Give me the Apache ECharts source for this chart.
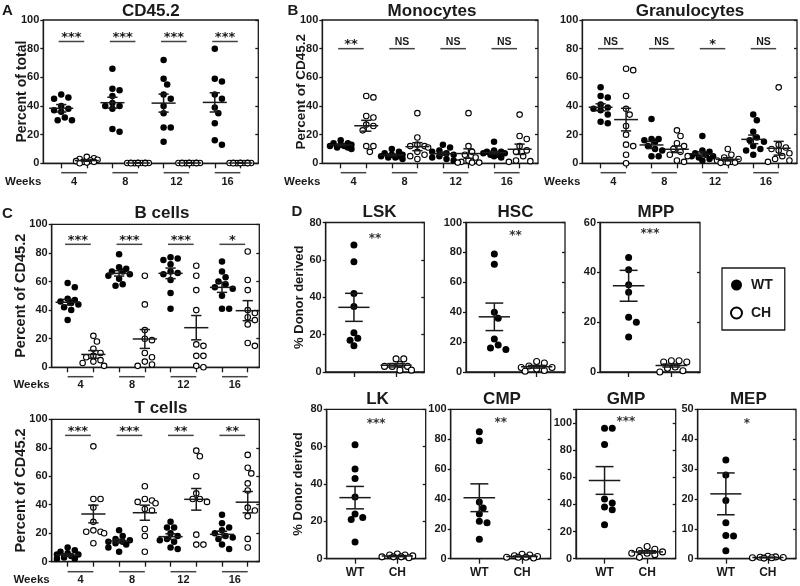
<!DOCTYPE html>
<html><head><meta charset="utf-8">
<script src="https://cdn.jsdelivr.net/npm/echarts@6/dist/echarts.min.js"></script>
<style>html,body{margin:0;padding:0;background:#fff}#c{width:800px;height:586px}</style>
</head><body><div id="c"></div>
<script>
// ---------------- data ----------------
const weeks = ['4', '8', '12', '16'];
const groupNames = ['WT', 'CH'];

const cd45Wt = [[48,46,45,40,38,37,36,32,30,30],[66,52,51,47,42,40,40,38,24,22],[72,59,55,48,45,40,35,25,25,15],[80,59,57,48,45,39,35,28,16,13]];
const cd45Ch = [[4.5,3.5,3,2.5,2,1.5,1,1,0.5,0],[0.4,0.3,0.3,0.2,0.2,0.2,0.1,0.1,0.1,0],[0.4,0.3,0.3,0.2,0.2,0.2,0.1,0.1,0.1,0],[0.4,0.3,0.3,0.2,0.2,0.2,0.1,0.1,0.1,0]];
const cd45WtMean = [38.4, 42.3, 42, 42.5], cd45WtSem = [2.6, 3.8, 6.3, 6.7];
const cd45ChMean = [1.9, 0.2, 0.2, 0.2], cd45ChSem = [0.5, 0.05, 0.05, 0.05];
const cd45Sig = ['***', '***', '***', '***'];

const monoWt = [[16,14,14,13,13,12,12,11,11,10],[10,8,7,6,6,5,5,4,4,3],[13,11,9,8,7,6,5,4,3,2],[15,9,8,8,7,7,6,6,5,4]];
const monoCh = [[47,46,33,32,27,26,23,12,12,8],[35,18,13,12,12,11,8,6,5,3],[35,12,8,6,4,2,1,0.5,0.5,0.5],[34,19,17,12,9,8,5,2,1.5,1]];
const monoWtMean = [12.8, 5.8, 6.7, 7.4], monoWtSem = [0.6, 0.7, 1.1, 0.9];
const monoChMean = [26.2, 11.6, 6.8, 9.8], monoChSem = [3.8, 2.8, 3.3, 3.6];
const monoSig = ['**', 'NS', 'NS', 'NS'];

const granWt = [[53,47,46,41,39,38,37,34,29,28],[31,17,17,16,15,12,10,9,5,5],[19,9,8,7,6,5,5,4,3,2],[34,30,22,18,16,15,12,10,9,6]];
const granCh = [[66,65,47,38,34,26,20,13,12,6,0],[23,19,14,12,10,8,6,5,2,1],[10,6,4,3,2,1,1,0.5,0.5,0.3],[53,13,11,10,9,7,5,3,2,1]];
const granWtMean = [39.1, 12.8, 6.5, 16.7], granWtSem = [2.4, 2.5, 1.5, 3.0];
const granChMean = [30.5, 9.8, 2.8, 10.5], granChSem = [7.9, 2.3, 1.1, 4.8];
const granSig = ['NS', 'NS', '*', 'NS'];

const bWt = [[59,56,48,47,46,45,44,42,40,33],[79,70,69,67,67,65,64,62,58,57],[77,76,75,72,67,66,65,61,52,41],[74,67,63,60,58,56,55,50,41,41]];
const bCh = [[22,18,13,10,8,7,5,4,3,1],[64,44,26,20,19,10,7,4,2,1],[71,64,54,40,16,15,8,8,1,0],[81,61,54,40,38,35,33,30,17,15]];
const bWtMean = [45.5, 65.7, 65.7, 55.9], bWtSem = [2.0, 1.9, 3.7, 3.5];
const bChMean = [9.0, 19.8, 27.7, 39.6], bChSem = [2.7, 6.6, 8.5, 7.0];
const bSig = ['***', '***', '***', '*'];

const tWt = [[10,8,7,6,5,5,4,3,2,2],[22,18,16,15,14,14,13,12,10,7],[28,24,24,20,18,16,15,14,10,9],[33,27,24,22,20,18,17,16,12,9]];
const tCh = [[81,44,44,38,28,22,21,21,20,13],[53,44,43,42,41,37,36,23,18,7],[78,74,60,48,44,44,42,19,12,12],[75,66,62,55,50,38,36,32,16,10]];
const tWtMean = [4.7, 14.5, 17.6, 19.2], tWtSem = [0.9, 1.3, 2.0, 2.2];
const tChMean = [33.5, 34.4, 43.8, 41.8], tChSem = [6.2, 5.3, 7.6, 7.5];
const tSig = ['***', '***', '**', '**'];

const lskWt = [68,59,42,35,21,18,17,14], lskCh = [7,7,4,3,3,3,1,1];
const hscWt = [79,72,40,36,22,18,16,15], hscCh = [7,6,4,3,3,2,1,0.5];
const mppWt = [46,41,35,32,22,20,14], mppCh = [4.5,4.5,4,4,2,1.5,0.5,0];
const lkWt = [61,48,43,33,24,22,21,9], lkCh = [2.5,2,2,1.5,1,1,1,0.5];
const cmpWt = [85,79,38,34,30,25,24,13], cmpCh = [3,2.5,2,1.5,1,1,1,0.5];
const gmpWt = [96,96,84,44,41,38,36,25], gmpCh = [9,7,6,5,4,4,3,1];
const mepWt = [33,28,19.5,12,7.8,7.6,2.7], mepCh = [0.8,0.6,0.5,0.4,0.3,0.3,0.2];
// [WT, CH] mean and SEM per progenitor panel
const lskMean = [34.6, 3.6], lskSem = [7.5, 0.9];
const hscMean = [36.9, 3.5], hscSem = [9.2, 0.9];
const mppMean = [34.6, 2.6], mppSem = [6.2, 0.6];
const lkMean = [32.7, 1.4], lkSem = [6.0, 0.3];
const cmpMean = [40.8, 1.5], cmpSem = [9.3, 0.3];
const gmpMean = [57.6, 5.0], gmpSem = [10.2, 0.9];
const mepMean = [21.7, 0.4], mepSem = [7.0, 0.1];

// ---------------- layout ----------------
const FONT = '"Liberation Sans", Arial, sans-serif';
const INK = '#1a1a1a';

function wk(title, tx, ty, grid, x, yName, nameGap, nameSize, wt, ch, wm, ws, cm, cs, sig, sigY, ul, wl) {
  return {title, tx, ty, grid, x, y: [0, 100, 20], yName, nameGap, nameSize, wt, ch, wm, ws, cm, cs, sig, sigY,
          ul, wl, dot: 6.5, meanHalf: 0.47, capHalf: 0.2, swarmHalf: 13, weekRow: true};
}
function dp(title, tx, ty, grid, y, yName, nameGap, wt, ch, mean, sem, star, starY, xLabels) {
  return {title, tx, ty, grid, x: [0.33, 2.67], y, yName, nameGap, nameSize: 13, wt: [wt], ch: [ch],
          wm: [mean[0]], ws: [sem[0]], cm: [mean[1]], cs: [sem[1]], star, starY, xLabels,
          dot: 7, meanHalf: 0.37, capHalf: 0.21, swarmHalf: 18};
}

const panels = [
  wk('CD45.2', 150.8, 11, [43.3, 20, 215, 143.3], [0.3, 8.7], 'Percent of total', 14, 14, cd45Wt, cd45Ch, cd45WtMean, cd45WtSem, cd45ChMean, cd45ChSem, cd45Sig, 85, 9.4, 18.5),
  wk('Monocytes', 432, 11, [322.3, 20, 215.7, 143.3], [0.28, 8.72], 'Percent of CD45.2', 14, 13.5, monoWt, monoCh, monoWtMean, monoWtSem, monoChMean, monoChSem, monoSig, 80, 9.4, 18.5),
  wk('Granulocytes', 690, 11, [582.3, 20, 214.7, 143.3], [0.28, 8.72], '', 14, 13.5, granWt, granCh, granWtMean, granWtSem, granChMean, granChSem, granSig, 80, 9.4, 18.5),
  wk('B cells', 162, 213, [51.7, 224.3, 207.6, 143], [0.38, 8.45], 'Percent of CD45.2', 23, 14.5, bWt, bCh, bWtMean, bWtSem, bChMean, bChSem, bSig, 86, 9.4, 17.8),
  wk('T cells', 161, 408, [51.7, 419.3, 207.6, 142.4], [0.38, 8.45], 'Percent of CD45.2', 23, 14.5, tWt, tCh, tWtMean, tWtSem, tChMean, tChSem, tSig, 88.7, 10, 18.3),
  dp('LSK', 379.5, 212, [325.7, 222.5, 98.6, 149.5], [0, 80, 20], '% Donor derived', 20, lskWt, lskCh, lskMean, lskSem, '**', 73, false),
  dp('HSC', 515.5, 212, [466, 222.5, 99, 149.5], [0, 100, 20], '', 20, hscWt, hscCh, hscMean, hscSem, '**', 93, false),
  dp('MPP', 656, 212, [600, 222.5, 100, 149.5], [0, 60, 20], '', 20, mppWt, mppCh, mppMean, mppSem, '***', 56.8, false),
  dp('LK', 377.5, 399, [326.7, 409.3, 99, 149.4], [0, 80, 20], '% Donor derived', 22, lkWt, lkCh, lkMean, lkSem, '***', 74, true),
  dp('CMP', 502, 399, [450.7, 409.3, 100, 149.4], [0, 100, 20], '', 22, cmpWt, cmpCh, cmpMean, cmpSem, '**', 92.8, true),
  dp('GMP', 626, 399, [576, 409.3, 99.7, 149.4], [0, 110, 20], '', 22, gmpWt, gmpCh, gmpMean, gmpSem, '***', 102.6, true),
  dp('MEP', 748.3, 399, [697.7, 409.3, 98.3, 149.4], [0, 50, 10], '', 22, mepWt, mepCh, mepMean, mepSem, '*', 46.2, true)
];

const letters = [['A', 7.5, 11], ['B', 293, 11], ['C', 7.5, 214], ['D', 297, 212]];

// beeswarm: spreads points sideways (in data units) so markers do not overlap
function swarm(vals, xc, pxX, pxY, d, maxHalf) {
  const order = vals.map((v, i) => i).sort((a, b) => vals[b] - vals[a]);
  const placed = [], out = new Array(vals.length), step = d * 0.55;
  const cands = [0];
  for (let k = 1; k * step <= maxHalf; k++) cands.push(k * step, -k * step);
  order.forEach(i => {
    const y = vals[i] * pxY;
    let best = 0, bestD = -1;
    for (const c of cands) {
      let md = Infinity;
      for (const p of placed) md = Math.min(md, Math.hypot(c - p[0], y - p[1]));
      if (md >= d * 0.95) { best = c; bestD = md; break; }
      if (md > bestD) { bestD = md; best = c; }
    }
    placed.push([best, y]);
    out[i] = [xc + best / pxX, vals[i]];
  });
  return out;
}

const grids = [], xAxes = [], yAxes = [], series = [], graphics = [];
const axisLineStyle = {color: INK, width: 1.3};
const labelText = {fontFamily: FONT, fontWeight: 'bold', color: INK};

panels.forEach((p, i) => {
  const [gl, gt, gw, gh] = p.grid;
  const nG = p.wt.length;
  const pos = (g, isCh) => (nG > 1 ? 2 * g + 1 : 1) + (isCh ? 1 : 0);
  const ticks = [];
  for (let g = 0; g < nG; g++) ticks.push(pos(g, false), pos(g, true));
  const pxX = gw / (p.x[1] - p.x[0]), pxY = gh / (p.y[1] - p.y[0]);

  grids.push({left: gl, top: gt, width: gw, height: gh, show: true, borderColor: INK, borderWidth: 1.3, backgroundColor: 'transparent'});
  xAxes.push({gridIndex: i, type: 'value', min: p.x[0], max: p.x[1],
    axisLine: {show: true, onZero: false, lineStyle: axisLineStyle},
    axisTick: {show: true, customValues: ticks, length: 5, lineStyle: axisLineStyle},
    axisLabel: Object.assign({show: !!p.xLabels, customValues: ticks, margin: 8, fontSize: 12,
      formatter: v => groupNames[Math.round(v) - 1] || ''}, labelText),
    splitLine: {show: false}});
  yAxes.push({gridIndex: i, type: 'value', min: p.y[0], max: p.y[1], interval: p.y[2], position: 'left',
    name: p.yName, nameLocation: 'middle', nameGap: p.nameGap, nameMoveOverlap: false,
    nameTextStyle: Object.assign({fontSize: p.nameSize}, labelText),
    axisLine: {show: true, lineStyle: axisLineStyle},
    axisTick: {show: true, length: 3, lineStyle: axisLineStyle},
    axisLabel: Object.assign({margin: 4, fontSize: 11, formatter: v => (v % p.y[2] === 0 ? String(v) : '')}, labelText),
    splitLine: {show: false}});
  yAxes.push({gridIndex: i, type: 'value', min: p.y[0], max: p.y[1], interval: p.y[2], position: 'right',
    axisLine: {show: false}, axisTick: {show: true, inside: true, length: 3, lineStyle: axisLineStyle},
    axisLabel: {show: false}, splitLine: {show: false}});

  const yi = 2 * i;
  let wtPts = [], chPts = [];
  for (let g = 0; g < nG; g++) {
    wtPts = wtPts.concat(swarm(p.wt[g], pos(g, false), pxX, pxY, p.dot, p.swarmHalf));
    chPts = chPts.concat(swarm(p.ch[g], pos(g, true), pxX, pxY, p.dot, p.swarmHalf));
  }
  series.push({type: 'scatter', name: 'WT', xAxisIndex: i, yAxisIndex: yi, symbol: 'circle', symbolSize: p.dot,
    itemStyle: {color: '#000', opacity: 1}, data: wtPts, z: 3, silent: true, clip: false});
  series.push({type: 'scatter', name: 'CH', xAxisIndex: i, yAxisIndex: yi, symbol: 'circle', symbolSize: p.dot - 1,
    itemStyle: {color: '#fff', borderColor: '#000', borderWidth: 1.1, opacity: 1}, data: chPts, z: 3, silent: true, clip: false});

  const ms = [];
  for (let g = 0; g < nG; g++) {
    ms.push([pos(g, false), p.wm[g], p.ws[g]]);
    ms.push([pos(g, true), p.cm[g], p.cs[g]]);
  }
  series.push({type: 'custom', xAxisIndex: i, yAxisIndex: yi, clip: false, z: 5, silent: true, data: ms,
    renderItem: (params, api) => {
      const x = api.value(0), m = api.value(1), s = api.value(2);
      const c = api.coord([x, m]), hi = api.coord([x, m + s]), lo = api.coord([x, m - s]);
      const hw = api.size([p.meanHalf, 0])[0], cw = api.size([p.capHalf, 0])[0];
      const st = {stroke: INK, lineWidth: 1.5};
      return {type: 'group', children: [
        {type: 'line', shape: {x1: c[0] - hw, y1: c[1], x2: c[0] + hw, y2: c[1]}, style: st},
        {type: 'line', shape: {x1: c[0], y1: hi[1], x2: c[0], y2: lo[1]}, style: st},
        {type: 'line', shape: {x1: c[0] - cw, y1: hi[1], x2: c[0] + cw, y2: hi[1]}, style: st},
        {type: 'line', shape: {x1: c[0] - cw, y1: lo[1], x2: c[0] + cw, y2: lo[1]}, style: st}
      ]};
    }});

  if (p.sig) {
    series.push({type: 'custom', xAxisIndex: i, yAxisIndex: yi, clip: false, z: 4, silent: true,
      data: p.sig.map((s, g) => [pos(g, false) - 0.1, pos(g, true) - 0.1, p.sigY]),
      renderItem: (params, api) => {
        const a = api.coord([api.value(0), api.value(2)]), b = api.coord([api.value(1), api.value(2)]);
        const lab = p.sig[params.dataIndex], star = lab.indexOf('*') >= 0;
        return {type: 'group', children: [
          {type: 'line', shape: {x1: a[0], y1: a[1], x2: b[0], y2: b[1]}, style: {stroke: '#444', lineWidth: 1.5}},
          {type: 'text', x: (a[0] + b[0]) / 2, y: a[1] - (star ? 4 : 6.5),
            style: {text: lab, fill: INK, align: 'center', verticalAlign: 'middle',
              font: star ? 'bold 13px "DejaVu Sans"' : 'bold 10.5px "Liberation Sans"'}}
        ]};
      }});
  }
  if (p.weekRow) {
    series.push({type: 'custom', xAxisIndex: i, yAxisIndex: yi, clip: false, z: 4, silent: true,
      data: weeks.map((w, g) => [pos(g, false), pos(g, true)]),
      renderItem: (params, api) => {
        const a = api.coord([api.value(0), p.y[0]]), b = api.coord([api.value(1), p.y[0]]);
        return {type: 'group', children: [
          {type: 'line', shape: {x1: a[0], y1: a[1] + p.ul, x2: b[0], y2: b[1] + p.ul}, style: {stroke: '#444', lineWidth: 1.5}},
          {type: 'text', x: (a[0] + b[0]) / 2, y: a[1] + p.wl,
            style: {text: weeks[params.dataIndex], fill: INK, align: 'center', verticalAlign: 'middle',
              font: 'bold 11px "Liberation Sans"'}}
        ]};
      }});
    graphics.push({type: 'text', x: gl - 2, y: gt + gh + p.wl,
      style: {text: 'Weeks', fill: INK, align: 'right', verticalAlign: 'middle', font: 'bold 11.5px "Liberation Sans"'}});
  }
  if (p.star) {
    series.push({type: 'custom', xAxisIndex: i, yAxisIndex: yi, clip: false, z: 4, silent: true,
      data: [[1.5, p.starY]],
      renderItem: (params, api) => {
        const c = api.coord([api.value(0), api.value(1)]);
        return {type: 'text', x: c[0], y: c[1] + 3,
          style: {text: p.star, fill: '#333', align: 'center', verticalAlign: 'middle', font: 'bold 12px "DejaVu Sans"'}};
      }});
  }
  graphics.push({type: 'text', x: p.tx, y: p.ty,
    style: {text: p.title, fill: INK, align: 'center', verticalAlign: 'middle', font: 'bold 17px "Liberation Sans"'}});
});

letters.forEach(l => graphics.push({type: 'text', x: l[1], y: l[2],
  style: {text: l[0], fill: INK, align: 'center', verticalAlign: 'middle', font: 'bold 15px "Liberation Sans"'}}));

const chart = echarts.init(document.getElementById('c'), null, {renderer: 'canvas'});
chart.setOption({
  animation: false,
  backgroundColor: '#fff',
  grid: grids, xAxis: xAxes, yAxis: yAxes, series: series,
  graphic: graphics,
  legend: {left: 722, top: 268, orient: 'vertical', data: ['WT', 'CH'], icon: 'circle', itemWidth: 11, itemHeight: 11,
    itemGap: 14, padding: [10, 12, 10, 8], borderColor: INK, borderWidth: 1.3, selectedMode: false,
    textStyle: {fontFamily: FONT, fontWeight: 'bold', fontSize: 14, color: INK, padding: [0, 0, 0, 4]}}
});
</script></body></html>
